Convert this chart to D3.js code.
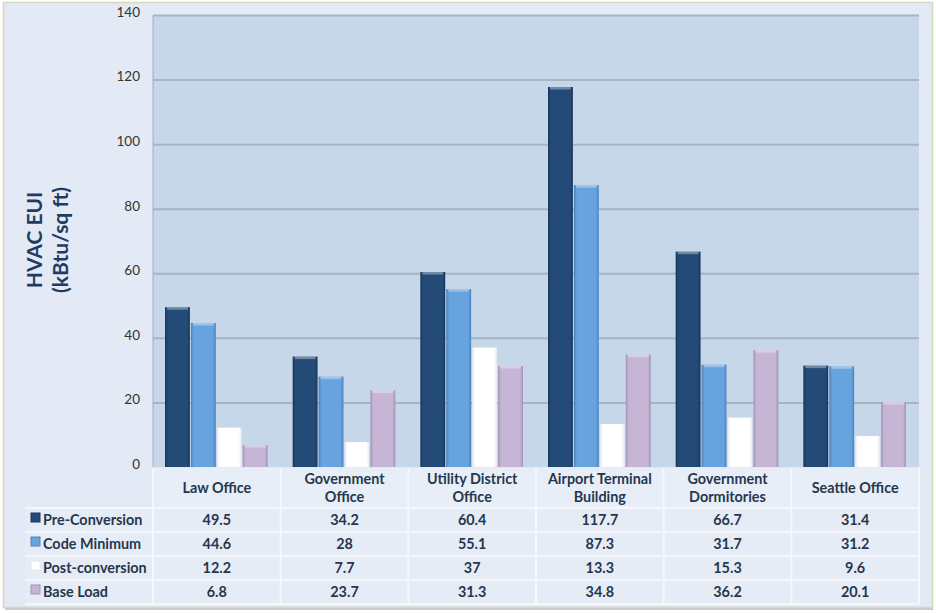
<!DOCTYPE html>
<html>
  <head>
    <meta charset="utf-8">
    <script src="https://d3js.org/d3.v7.min.js"></script>
    <style>
      body { margin: 0px; background: #fff; }
      .domain { display: none; }
      .tick line { stroke: #a6b4c6; stroke-width: 2; }
      .tick text { fill: #333; font-size: 13.5px; font-family: Lato, sans-serif; }
      .cell-text { fill: #26374d; font-size: 14.4px; font-weight: bold; font-family: Lato, sans-serif; }
      .axis-label { fill: #1f3c63; font-size: 21px; font-weight: bold; font-family: Lato, sans-serif; }
    </style>
  </head>
  <body>
    <svg width="936" height="613"></svg>
    <script>
      const categories = [
        ['Law Office'],
        ['Government', 'Office'],
        ['Utility District', 'Office'],
        ['Airport Terminal', 'Building'],
        ['Government', 'Dormitories'],
        ['Seattle Office']
      ];
      const seriesNames = ['Pre-Conversion', 'Code Minimum', 'Post-conversion', 'Base Load'];
      const preConversion = [49.5, 34.2, 60.4, 117.7, 66.7, 31.4];
      const codeMinimum = [44.6, 28, 55.1, 87.3, 31.7, 31.2];
      const postConversion = [12.2, 7.7, 37, 13.3, 15.3, 9.6];
      const baseLoad = [6.8, 23.7, 31.3, 34.8, 36.2, 20.1];
      const yTicks = [0, 20, 40, 60, 80, 100, 120, 140];

      const colors = ['#244b78', '#67a3df', '#ffffff', '#c7b5d6'];
      const edges = ['#1a3558', '#4a83c0', '#e2e6ee', '#a592b8'];
      const allSeries = [preConversion, codeMinimum, postConversion, baseLoad];

      const svg = d3.select('svg');
      const plot = { left: 153, right: 919, top: 15, bottom: 467 };
      const table = { left: 25, headerBottom: 508, rowH: 24 };

      // background + border
      svg.append('rect').attr('x', 3.5).attr('y', 2.5).attr('width', 929).attr('height', 605)
        .attr('fill', '#e4eaf5').attr('stroke', '#d3dbb8').attr('stroke-width', 1.5);
      svg.append('line').attr('x1', 5).attr('x2', 933).attr('y1', 609).attr('y2', 609)
        .attr('stroke', '#c9cfc0').attr('stroke-width', 2);

      svg.append('rect').attr('x', plot.left).attr('y', plot.top)
        .attr('width', plot.right - plot.left).attr('height', plot.bottom - plot.top)
        .attr('fill', '#c6d7e9');

      const xScale = d3.scaleBand()
        .domain(d3.range(categories.length))
        .range([plot.left, plot.right]);
      const xInner = d3.scaleBand()
        .domain(d3.range(seriesNames.length))
        .range([12, xScale.bandwidth() - 13])
        .paddingInner(0.04);
      const yScale = d3.scaleLinear().domain([0, 140]).range([plot.bottom, plot.top]);

      const yAxisG = svg.append('g').attr('transform', `translate(${plot.left},0)`);
      yAxisG.call(d3.axisLeft(yScale).tickValues(yTicks)
        .tickSize(-(plot.right - plot.left)).tickPadding(13));
      yAxisG.selectAll('.tick').filter(d => d === 0).select('line').remove();
      yAxisG.selectAll('.tick text').attr('dy', '0.1em');

      // left plot edge
      svg.append('line').attr('x1', plot.left).attr('x2', plot.left)
        .attr('y1', plot.top).attr('y2', plot.bottom).attr('stroke', '#9fb0c4').attr('stroke-width', 1);

      // gradients for bars
      const defs = svg.append('defs');
      colors.forEach((c, i) => {
        const g = defs.append('linearGradient').attr('id', 'bar' + i)
          .attr('x1', 0).attr('x2', 1).attr('y1', 0).attr('y2', 0);
        g.append('stop').attr('offset', '0%').attr('stop-color', edges[i]);
        g.append('stop').attr('offset', '12%').attr('stop-color', c);
        g.append('stop').attr('offset', '88%').attr('stop-color', c);
        g.append('stop').attr('offset', '100%').attr('stop-color', edges[i]);
      });

      // bars
      allSeries.forEach((vals, s) => {
        svg.append('g').selectAll('rect').data(vals).enter().append('rect')
          .attr('x', (d, i) => xScale(i) + xInner(s))
          .attr('y', d => yScale(d))
          .attr('width', xInner.bandwidth())
          .attr('height', d => yScale(0) - yScale(d))
          .attr('fill', `url(#bar${s})`);
        svg.append('g').selectAll('rect').data(vals).enter().append('rect')
          .attr('x', (d, i) => xScale(i) + xInner(s) + 2)
          .attr('y', d => yScale(d))
          .attr('width', xInner.bandwidth() - 4)
          .attr('height', 2.5)
          .attr('fill', '#ffffff').attr('opacity', s === 2 ? 0 : 0.35);
      });

      // y axis label
      const yl = svg.append('text').attr('class', 'axis-label')
        .attr('transform', 'translate(42,240) rotate(-90)')
        .style('text-anchor', 'middle');
      yl.append('tspan').attr('x', 0).attr('y', 0).text('HVAC EUI');
      yl.append('tspan').attr('x', 0).attr('y', 26).text('(kBtu/sq ft)');

      // data table
      const rowsBottom = table.headerBottom + table.rowH * seriesNames.length;
      svg.append('rect').attr('x', plot.left).attr('y', plot.bottom + 1)
        .attr('width', plot.right - plot.left).attr('height', table.headerBottom - plot.bottom - 1)
        .attr('fill', '#e8eef7');
      svg.append('rect').attr('x', table.left).attr('y', table.headerBottom)
        .attr('width', plot.right - table.left).attr('height', rowsBottom - table.headerBottom)
        .attr('fill', '#e6ecf6');

      const lineColor = '#f4f7fb';
      // horizontal lines
      d3.range(seriesNames.length + 1).forEach(r => {
        const y = table.headerBottom + r * table.rowH;
        svg.append('line').attr('x1', table.left).attr('x2', plot.right)
          .attr('y1', y).attr('y2', y).attr('stroke', lineColor).attr('stroke-width', 2);
      });
      // vertical lines
      d3.range(categories.length + 1).forEach(c => {
        const x = xScale(c) !== undefined ? xScale(c) : plot.right;
        svg.append('line').attr('x1', x).attr('x2', x)
          .attr('y1', plot.bottom + 1).attr('y2', rowsBottom).attr('stroke', lineColor).attr('stroke-width', 2);
      });

      // header labels
      categories.forEach((lines, i) => {
        const cx = xScale(i) + xScale.bandwidth() / 2;
        const cy = (plot.bottom + table.headerBottom) / 2;
        const t = svg.append('text').attr('class', 'cell-text').attr('text-anchor', 'middle');
        lines.forEach((ln, k) => {
          t.append('tspan').attr('x', cx)
            .attr('y', cy + (k - (lines.length - 1) / 2) * 18 + 5).text(ln);
        });
      });

      // rows
      seriesNames.forEach((name, s) => {
        const cy = table.headerBottom + s * table.rowH + table.rowH / 2 + 5;
        svg.append('rect').attr('x', 31).attr('y', cy - 12).attr('width', 9).attr('height', 9)
          .attr('fill', colors[s]).attr('stroke', edges[s]).attr('stroke-width', 1);
        svg.append('text').attr('class', 'cell-text').attr('x', 43).attr('y', cy).text(name);
        allSeries[s].forEach((v, i) => {
          svg.append('text').attr('class', 'cell-text').attr('text-anchor', 'middle')
            .attr('x', xScale(i) + xScale.bandwidth() / 2).attr('y', cy).text(v);
        });
      });
    </script>
  </body>
</html>
